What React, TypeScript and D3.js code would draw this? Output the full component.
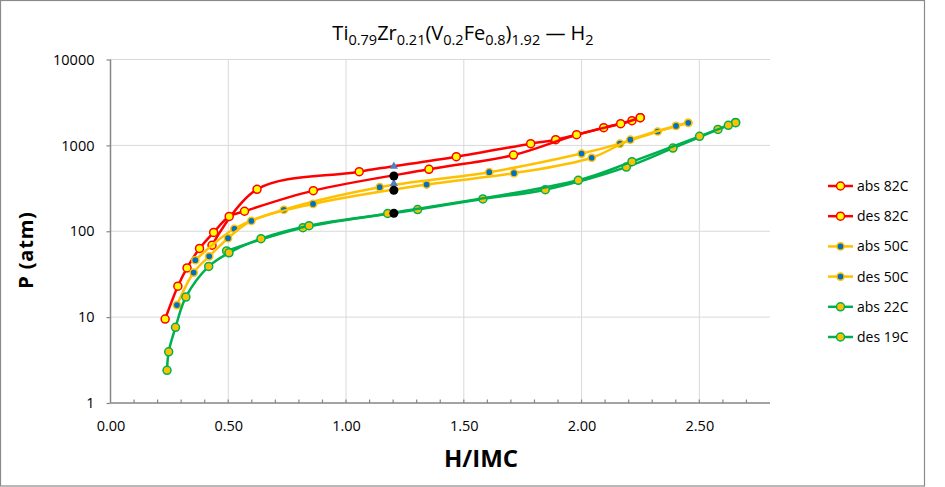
import React, { useEffect, useRef } from "react";
import * as d3 from "d3";

type Pt = [number, number];

// H/IMC vs P (atm)
const abs82C: Pt[] = [
    [0.431, 68.7], [0.622, 308], [1.056, 494], [1.468, 738], [1.784, 1047],
    [1.890, 1164], [2.094, 1606], [2.214, 1937], [2.249, 2100]
];
const des82C: Pt[] = [
    [2.249, 2100], [2.166, 1787], [1.979, 1331], [1.711, 771], [1.352, 526],
    [0.861, 297], [0.569, 171], [0.504, 149], [0.438, 97], [0.378, 63],
    [0.325, 37.4], [0.286, 22.9], [0.232, 9.5]
];
const abs50C: Pt[] = [
    [0.360, 46], [0.526, 107], [0.736, 178], [1.143, 326], [1.608, 487],
    [2.000, 803], [2.163, 1047], [2.323, 1450], [2.453, 1833]
];
const des50C: Pt[] = [
    [2.453, 1833], [2.401, 1686], [2.207, 1164], [2.043, 718], [1.713, 474],
    [1.342, 350], [0.860, 208], [0.598, 132], [0.499, 83], [0.419, 51],
    [0.353, 33], [0.282, 13.8]
];
const abs22C: Pt[] = [
    [0.493, 59], [0.817, 110], [1.304, 179], [1.581, 238], [1.846, 305],
    [2.190, 559], [2.388, 930], [2.579, 1535], [2.654, 1850]
];
const des19C: Pt[] = [
    [2.654, 1840], [2.623, 1710], [2.501, 1273], [2.214, 646], [1.986, 392],
    [1.177, 161], [0.843, 116], [0.639, 82], [0.503, 56], [0.417, 38.9],
    [0.320, 17.1], [0.276, 7.6], [0.247, 3.95], [0.240, 2.4]
];
// stray points at 1.2
const blackDots: Pt[] = [[1.203, 440], [1.203, 300], [1.203, 162]];
const blueTriangles: Pt[] = [[1.203, 570], [1.203, 359]];

const yTicks = [1, 10, 100, 1000, 10000];
const xTicks = [0, 0.5, 1.0, 1.5, 2.0, 2.5];
const xMinorTicks = d3.range(1, 28).map(i => i / 10);

const series = [
    { name: "abs 82C", data: abs82C, line: "#FF0000", fill: "#FFFF00", stroke: "#FF0000", r: 4 },
    { name: "des 82C", data: des82C, line: "#FF0000", fill: "#FFFF00", stroke: "#FF0000", r: 4 },
    { name: "abs 50C", data: abs50C, line: "#FFC000", fill: "#0070C0", stroke: "#FFC000", r: 3.6 },
    { name: "des 50C", data: des50C, line: "#FFC000", fill: "#0070C0", stroke: "#FFC000", r: 3.6 },
    { name: "abs 22C", data: abs22C, line: "#00B050", fill: "#FFC000", stroke: "#00B050", r: 4 },
    { name: "des 19C", data: des19C, line: "#00B050", fill: "#FFC000", stroke: "#00B050", r: 4 }
];

const FONT = "'Open Sans', 'Liberation Sans', sans-serif";

const App: React.FC = () => {
    const svgRef = useRef<SVGSVGElement>(null);

    useEffect(() => {
        document.body.style.margin = "0";
        if (!svgRef.current) return;
        const svg = d3.select(svgRef.current);
        svg.selectAll("*").remove();

        const left = 110.5, right = 770, top = 59.5, bottom = 403;

        const x = d3.scaleLinear().domain([0, 2.8]).range([left, right]);
        const y = d3.scaleLog().domain([1, 10000]).range([bottom, top]);

        // chart border
        svg.append("rect")
            .attr("x", 0.5).attr("y", 0.5)
            .attr("width", 924).attr("height", 485.5)
            .attr("fill", "#fff")
            .attr("stroke", "#8a8a8a")
            .attr("stroke-width", 1.2);

        // gridlines
        const grid = svg.append("g");
        yTicks.filter(t => t > 1).forEach(t => {
            grid.append("line")
                .attr("x1", left).attr("x2", right)
                .attr("y1", y(t)).attr("y2", y(t))
                .attr("stroke", "#d9d9d9").attr("stroke-width", 1);
        });
        xTicks.filter(t => t > 0).forEach(t => {
            grid.append("line")
                .attr("x1", x(t)).attr("x2", x(t))
                .attr("y1", top).attr("y2", bottom)
                .attr("stroke", "#d9d9d9").attr("stroke-width", 1);
        });

        // y axis
        const yAxis = svg.append("g")
            .attr("transform", `translate(${left},0)`)
            .call(d3.axisLeft(y).tickValues(yTicks).tickFormat(d3.format("d")).tickSize(4).tickPadding(12));
        yAxis.select(".domain").remove();
        yAxis.selectAll("line").attr("stroke", "#868686").attr("stroke-width", 1.2);
        yAxis.selectAll("text")
            .attr("font-family", FONT).attr("font-size", 14.5).attr("fill", "#000");

        // x axis
        const xAxis = svg.append("g")
            .attr("transform", `translate(0,${bottom})`)
            .call(d3.axisBottom(x).tickValues(xTicks).tickFormat(d3.format(".2f")).tickSize(0).tickPadding(18));
        xAxis.select(".domain").remove();
        xAxis.selectAll("text")
            .attr("font-family", FONT).attr("font-size", 14.5).attr("fill", "#000");

        // minor ticks on x axis
        svg.append("g").selectAll("line")
            .data(xMinorTicks)
            .enter()
            .append("line")
            .attr("x1", d => x(d)).attr("x2", d => x(d))
            .attr("y1", bottom - 3.5).attr("y2", bottom)
            .attr("stroke", "#868686").attr("stroke-width", 1.2);

        svg.append("line")
            .attr("x1", left).attr("x2", right)
            .attr("y1", bottom).attr("y2", bottom)
            .attr("stroke", "#868686").attr("stroke-width", 1.5);
        svg.append("line")
            .attr("x1", left).attr("x2", left)
            .attr("y1", top).attr("y2", bottom)
            .attr("stroke", "#868686").attr("stroke-width", 1.5);

        // series
        const line = d3.line<Pt>()
            .x(d => x(d[0]))
            .y(d => y(d[1]))
            .curve(d3.curveCatmullRom.alpha(0.5));

        series.forEach(s => {
            const g = svg.append("g");
            g.append("path")
                .datum(s.data)
                .attr("d", line)
                .attr("fill", "none")
                .attr("stroke", s.line)
                .attr("stroke-width", 2.5);
            g.selectAll("circle")
                .data(s.data)
                .enter()
                .append("circle")
                .attr("cx", d => x(d[0]))
                .attr("cy", d => y(d[1]))
                .attr("r", s.r)
                .attr("fill", s.fill)
                .attr("stroke", s.stroke)
                .attr("stroke-width", 1.5);
        });

        // extra markers
        svg.append("g").selectAll("path")
            .data(blueTriangles)
            .enter()
            .append("path")
            .attr("d", d3.symbol().type(d3.symbolTriangle).size(30))
            .attr("transform", d => `translate(${x(d[0])},${y(d[1])})`)
            .attr("fill", "#4F81BD");
        svg.append("g").selectAll("circle")
            .data(blackDots)
            .enter()
            .append("circle")
            .attr("cx", d => x(d[0]))
            .attr("cy", d => y(d[1]))
            .attr("r", 4.5)
            .attr("fill", "#000");

        // legend
        const legend = svg.append("g");
        series.forEach((s, i) => {
            const ly = 186 + i * 30.2;
            const item = legend.append("g").attr("transform", `translate(828,${ly})`);
            item.append("line")
                .attr("x1", 0).attr("x2", 25)
                .attr("y1", 0).attr("y2", 0)
                .attr("stroke", s.line).attr("stroke-width", 2.5);
            item.append("circle")
                .attr("cx", 12.5).attr("cy", 0).attr("r", s.r)
                .attr("fill", s.fill).attr("stroke", s.stroke).attr("stroke-width", 1.5);
            item.append("text")
                .attr("x", 29).attr("y", 5)
                .attr("font-family", FONT).attr("font-size", 14)
                .attr("fill", "#000")
                .text(s.name);
        });

        // title with subscripts
        const title = svg.append("text")
            .attr("x", 463).attr("y", 40)
            .attr("text-anchor", "middle")
            .attr("font-family", FONT).attr("font-size", 20)
            .attr("fill", "#000");
        const parts: [string, boolean][] = [
            ["Ti", false], ["0.79", true], ["Zr", false], ["0.21", true],
            ["(V", false], ["0.2", true], ["Fe", false], ["0.8", true],
            [")", false], ["1.92", true], [" \u2014  H", false], ["2", true]
        ];
        let sub = false;
        parts.forEach(([t, isSub]) => {
            const ts = title.append("tspan").text(t);
            if (isSub && !sub) ts.attr("dy", 5).attr("font-size", 14.5);
            else if (isSub) ts.attr("font-size", 14.5);
            if (!isSub && sub) ts.attr("dy", -5);
            sub = isSub;
        });

        // axis titles
        svg.append("text")
            .attr("x", 481).attr("y", 467)
            .attr("text-anchor", "middle")
            .attr("font-family", FONT).attr("font-size", 24).attr("font-weight", "bold")
            .attr("fill", "#000")
            .text("H/IMC");
        svg.append("text")
            .attr("transform", "translate(33,250) rotate(-90)")
            .attr("text-anchor", "middle")
            .attr("font-family", FONT).attr("font-size", 20).attr("font-weight", "bold")
            .attr("letter-spacing", 0.8)
            .attr("fill", "#000")
            .text("P (atm)");
    }, []);

    return (
        <div style={{ width: 945, height: 487 }}>
            <svg ref={svgRef} width={945} height={487} style={{ display: "block" }} />
        </div>
    );
};

export default App;
